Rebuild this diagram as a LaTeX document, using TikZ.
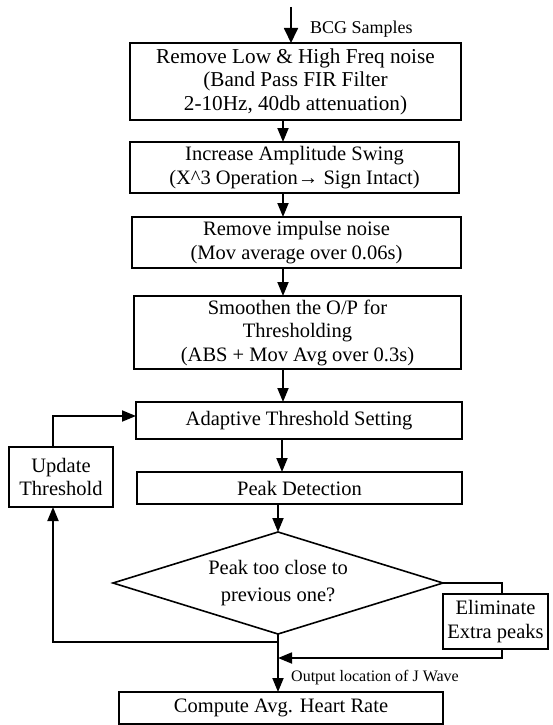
\documentclass[tikz,border=0pt]{standalone}
\usepackage{fontspec}
\setmainfont{Liberation Serif}
\usetikzlibrary{arrows.meta,shapes.geometric}
\begin{document}
\begin{tikzpicture}[x=1pt,y=-1pt,
  box/.style={draw,line width=1.6pt,inner sep=0pt,outer sep=0pt,align=center,font=\fontsize{20.5}{23.5}\selectfont},
  conn/.style={line width=1.8pt,-{Triangle[length=14pt,width=11pt]}},
  plain/.style={line width=1.8pt},
  lbl/.style={inner sep=0pt,anchor=base west}]
\useasboundingbox (0,0) rectangle (552,725);
% boxes
\node[box,minimum width=331pt,minimum height=77pt,font=\fontsize{21.2}{23.5}\selectfont] (b1) at (295.5,81.5) {Remove Low \& High Freq noise\\(Band Pass FIR Filter\\2-10Hz, 40db attenuation)};
\node[box,minimum width=329pt,minimum height=51pt] (b2) at (294.5,167.5) {Increase Amplitude Swing\\(X\textasciicircum 3 Operation\textbf{→} Sign Intact)};
\node[box,minimum width=329pt,minimum height=51pt] (b3) at (296.5,242.5) {Remove impulse noise\\(Mov average over 0.06s)};
\node[box,minimum width=327pt,minimum height=73pt] (b4) at (297.5,332.5) {Smoothen the O/P for\\Thresholding\\(ABS + Mov Avg over 0.3s)};
\node[box,minimum width=326pt,minimum height=37pt] (b5) at (299,420.5) {Adaptive Threshold Setting};
\node[box,minimum width=325pt,minimum height=32pt] (b6) at (299.5,488) {Peak Detection};
\node[box,shape=diamond,aspect=3.24,minimum width=330pt,minimum height=102pt,font=\fontsize{20.5}{27}\selectfont] (dia) at (278,583) {Peak too close to\\previous one?};
\node[box,minimum width=105pt,minimum height=55pt] (elim) at (495.5,621.5) {Eliminate\\Extra peaks};
\node[box,minimum width=104pt,minimum height=60pt] (upd) at (61,477) {Update\\Threshold};
\node[box,minimum width=324pt,minimum height=32pt] (comp) at (281,708) {Compute Avg. Heart Rate};
% labels
\node[lbl,font=\fontsize{18}{20}\selectfont] (bcg) at (310,34) {BCG Samples};
\node[lbl,font=\fontsize{16}{18}\selectfont] (out) at (291,681) {Output location of J Wave};
% coordinates
\coordinate (top) at (291,7);
\coordinate (a1) at (283,0);
\coordinate (a5) at (282,0);
\coordinate (jL) at (278,642);
\coordinate (jR) at (278,658);
\coordinate (lx) at (53,0);
\coordinate (ly) at (0,416);
\coordinate (rx) at (502,0);
% connectors
\draw[line width=1.8pt,-{Triangle[length=15pt,width=14pt]}] (top) -- (top |- b1.north);
\draw[conn] (b1.south -| a1) -- (b2.north -| a1);
\draw[conn] (b2.south -| a1) -- (b3.north -| a1);
\draw[conn] (b3.south -| a1) -- (b4.north -| a1);
\draw[conn] (b4.south -| a1) -- (b5.north -| a1);
\draw[conn] (b5.south -| a5) -- (b6.north -| a5);
\draw[conn] (b6.south -| dia.north) -- (dia.north);
\draw[conn] (dia.south) -- (comp.north -| dia.south);
\draw[conn] (jL) -- (jL -| lx) -- (upd.south -| lx);
\draw[conn] (upd.north -| lx) -- (ly -| lx) -- (ly -| b5.west);
\draw[plain] (dia.east) -- (dia.east -| rx) -- (elim.north -| rx);
\draw[conn] (elim.south -| rx) -- (jR -| rx) -- (jR);
\end{tikzpicture}
\end{document}
